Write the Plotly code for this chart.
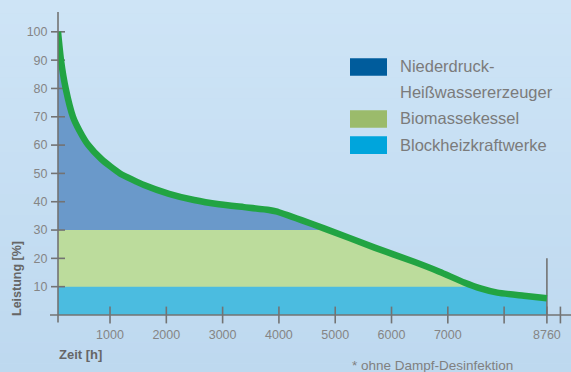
import numpy as np
import plotly.graph_objects as go

# Annual load duration curve of the heat demand (hours sorted by load)
HOURS = [76, 129, 213, 342, 460, 614, 850, 1177, 1604, 2048, 2492, 2936,
         3380, 3824, 3950, 4400, 4800, 5700, 6400, 6850, 7290, 7580, 7880,
         8350, 8760]
LOAD = [100, 90, 80, 70, 65, 60, 55, 50, 45.9, 42.8, 40.6, 39.1,
        38.1, 37.1, 36.6, 33.5, 30.6, 23.8, 18.8, 15.3, 11.5, 9.4, 7.9,
        6.8, 5.9]

# Capacity layers (upper limit of each generator in % of peak load)
CHP_LIMIT = 10       # Blockheizkraftwerke
BIOMASS_LIMIT = 30   # Biomassekessel

SERIES = [["Niederdruck-", "Heißwassererzeuger"], ["Biomassekessel"], ["Blockheizkraftwerke"]]
FILL_COLORS = ["#6a99ca", "#bcdc9c", "#4bbce0"]
LEGEND_COLORS = ["#005c9c", "#9bbb6b", "#00a5dc"]

X_TICKS = [1000, 2000, 3000, 4000, 5000, 6000, 7000, 8000, 9000, 8760]
X_TICK_TEXT = ["1000", "2000", "3000", "4000", "5000", "6000", "7000", "", "", "8760"]
Y_TICKS = [10, 20, 30, 40, 50, 60, 70, 80, 90, 100]
YEAR_HOURS = 8760
YEAR_MARK_TOP = 20

X_RANGE = [76, 9188]
Y_RANGE = [0, 107]

AXIS_COLOR = "#737373"
LINE_COLOR = "#22a443"
FONT = "Liberation Sans, Arial, sans-serif"


def clipped_curve(x, y, level):
    """Polyline of min(y, level), with the crossing points inserted."""
    xs, ys = [], []
    for i in range(len(x)):
        if i > 0:
            y0, y1 = y[i - 1], y[i]
            if (y0 - level) * (y1 - level) < 0:
                t = (level - y0) / (y1 - y0)
                xs.append(x[i - 1] + t * (x[i] - x[i - 1]))
                ys.append(level)
        xs.append(x[i])
        ys.append(min(y[i], level))
    return xs, ys


fig = go.Figure()

# Background gradient, light blue
top = np.array([0xcf, 0xe5, 0xf7])
bottom = np.array([0xbd, 0xd8, 0xef])
bands = 40
for i in range(bands):
    c = top + (bottom - top) * i / (bands - 1)
    fig.add_shape(type="rect", xref="paper", yref="paper", layer="below",
                  x0=-0.2, x1=1.05, y0=1.1 - (i + 1) * 1.4 / bands - 0.001,
                  y1=1.1 - i * 1.4 / bands, line_width=0,
                  fillcolor="rgb(%d,%d,%d)" % tuple(c.astype(int)))

# Stacked generator areas: peak load, biomass, CHP
fig.add_trace(go.Scatter(x=HOURS, y=LOAD, fill="tozeroy", mode="none",
                         line=dict(shape="spline", smoothing=0.5),
                         fillcolor=FILL_COLORS[0], hoverinfo="skip", showlegend=False))
bx, by = clipped_curve(HOURS, LOAD, BIOMASS_LIMIT)
fig.add_trace(go.Scatter(x=bx, y=by, fill="tozeroy", mode="none",
                         fillcolor=FILL_COLORS[1], hoverinfo="skip", showlegend=False))
cx, cy = clipped_curve(HOURS, LOAD, CHP_LIMIT)
fig.add_trace(go.Scatter(x=cx, y=cy, fill="tozeroy", mode="none",
                         fillcolor=FILL_COLORS[2], hoverinfo="skip", showlegend=False))

# Axis lines (crossing slightly at the origin)
fig.add_shape(type="line", xref="paper", yref="paper", x0=-8 / 513, x1=1, y0=0, y1=0,
              line=dict(color=AXIS_COLOR, width=1.6))
fig.add_shape(type="line", xref="paper", yref="paper", x0=0, x1=0, y0=-7.5 / 303, y1=1,
              line=dict(color=AXIS_COLOR, width=1.6))

# End-of-year marker
fig.add_trace(go.Scatter(x=[YEAR_HOURS, YEAR_HOURS], y=[-2.4, YEAR_MARK_TOP], mode="lines",
                         line=dict(color=AXIS_COLOR, width=1.6), cliponaxis=False,
                         hoverinfo="skip", showlegend=False))

# Tick marks crossing the axes
fig.add_trace(go.Scatter(x=X_TICKS, y=[0] * len(X_TICKS), mode="markers", cliponaxis=False,
                         marker=dict(symbol="line-ns", size=12,
                                     line=dict(color=AXIS_COLOR, width=1.6)),
                         hoverinfo="skip", showlegend=False))
fig.add_trace(go.Scatter(x=[X_RANGE[0]] * len(Y_TICKS), y=Y_TICKS, mode="markers",
                         cliponaxis=False,
                         marker=dict(symbol="line-ew", size=10,
                                     line=dict(color=AXIS_COLOR, width=1.6)),
                         hoverinfo="skip", showlegend=False))

# Load duration curve
fig.add_trace(go.Scatter(x=HOURS, y=LOAD, mode="lines", cliponaxis=False,
                         line=dict(color=LINE_COLOR, width=6.5, shape="spline", smoothing=0.5),
                         hoverinfo="skip", showlegend=False))

W, H = 571, 372
L, R, T, B = 58, 0, 12, 57
PW, PH = W - L - R, H - T - B


def px(x):
    return (x - L) / PW


def py(y):
    return (H - B - y) / PH


# Legend drawn as swatches + labels
swatch_rows = [(58.3, 75.7), (110.2, 127.8), (136.3, 154.0)]
label_rows = [[66, 92.3], [117.7], [144.7]]
for (y0, y1), color, lines, rows in zip(swatch_rows, LEGEND_COLORS, SERIES, label_rows):
    fig.add_shape(type="rect", xref="paper", yref="paper", x0=px(350), x1=px(387),
                  y0=py(y1), y1=py(y0), line_width=0, fillcolor=color)
    for text, ly in zip(lines, rows):
        fig.add_annotation(xref="paper", yref="paper", x=px(397.5), y=py(ly), text=text,
                           showarrow=False, xanchor="left", yanchor="middle", align="left",
                           font=dict(family=FONT, size=16.5, color="#7b7b7b"))

fig.add_annotation(xref="paper", yref="paper", x=px(57), y=py(354), text="<b>Zeit [h]</b>",
                   showarrow=False, xanchor="left", yanchor="middle",
                   font=dict(family=FONT, size=13, color="#666666"))
fig.add_annotation(xref="paper", yref="paper", x=px(17), y=py(279), text="<b>Leistung [%]</b>",
                   textangle=-90, showarrow=False, xanchor="center", yanchor="middle",
                   font=dict(family=FONT, size=12.5, color="#666666"))
fig.add_annotation(xref="paper", yref="paper", x=px(350), y=py(365),
                   text="* ohne Dampf-Desinfektion",
                   showarrow=False, xanchor="left", yanchor="middle",
                   font=dict(family=FONT, size=13.5, color="#808080"))

fig.update_layout(
    width=W, height=H,
    margin=dict(l=L, r=R, t=T, b=B, pad=0),
    paper_bgcolor="#c6dff3", plot_bgcolor="rgba(0,0,0,0)",
    showlegend=False,
    xaxis=dict(range=X_RANGE, tickvals=X_TICKS, ticktext=X_TICK_TEXT,
               ticks="outside", ticklen=8, tickcolor="rgba(0,0,0,0)",
               showgrid=False, zeroline=False, showline=False,
               tickfont=dict(family=FONT, size=12.5, color="#858585")),
    yaxis=dict(range=Y_RANGE, tickvals=Y_TICKS,
               ticks="outside", ticklen=7, tickcolor="rgba(0,0,0,0)",
               showgrid=False, zeroline=False, showline=False,
               tickfont=dict(family=FONT, size=12.5, color="#858585")),
)

fig.write_html("out.html")
